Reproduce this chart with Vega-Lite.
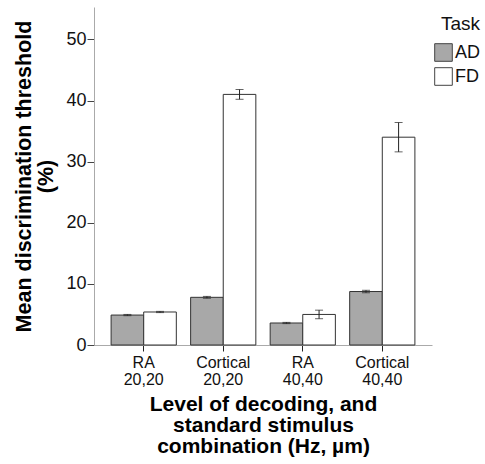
{
  "$schema": "https://vega.github.io/schema/vega-lite/v6.json",
  "width": 338,
  "height": 338,
  "autosize": "none",
  "padding": {"left": 94, "top": 7, "right": 53, "bottom": 119},
  "background": "white",
  "config": {
    "view": {"stroke": null},
    "font": "Liberation Sans"
  },
  "data": {
    "values": [
      {"group": "RA|20,20", "Task": "AD", "value": 4.9, "lo": 4.8, "hi": 5.0},
      {"group": "RA|20,20", "Task": "FD", "value": 5.4, "lo": 5.3, "hi": 5.5},
      {"group": "Cortical|20,20", "Task": "AD", "value": 7.8, "lo": 7.65, "hi": 7.95},
      {"group": "Cortical|20,20", "Task": "FD", "value": 41.0, "lo": 40.2, "hi": 41.8},
      {"group": "RA|40,40", "Task": "AD", "value": 3.6, "lo": 3.5, "hi": 3.7},
      {"group": "RA|40,40", "Task": "FD", "value": 5.0, "lo": 4.3, "hi": 5.7},
      {"group": "Cortical|40,40", "Task": "AD", "value": 8.75, "lo": 8.55, "hi": 8.95},
      {"group": "Cortical|40,40", "Task": "FD", "value": 34.0, "lo": 31.6, "hi": 36.4}
    ]
  },
  "encoding": {
    "x": {
      "field": "group",
      "type": "nominal",
      "sort": ["RA|20,20", "Cortical|20,20", "RA|40,40", "Cortical|40,40"],
      "scale": {"paddingInner": 0.18, "paddingOuter": 0.215},
      "axis": {
        "title": ["Level of decoding, and", "standard stimulus", "combination (Hz, µm)"],
        "titleFontSize": 21,
        "titleFontWeight": "bold",
        "titleColor": "#000000",
        "titleLineHeight": 21,
        "titlePadding": 6,
        "labelExpr": "split(datum.label, '|')",
        "labelAngle": 0,
        "labelFontSize": 16,
        "labelLineHeight": 17,
        "labelColor": "#111111",
        "labelPadding": 3,
        "domainColor": "#aaaaaa",
        "tickColor": "#222222",
        "tickSize": 6
      }
    },
    "xOffset": {
      "field": "Task",
      "type": "nominal",
      "sort": ["AD", "FD"],
      "scale": {"paddingInner": 0, "paddingOuter": 0}
    }
  },
  "layer": [
    {
      "mark": {"type": "bar", "stroke": "#333333", "strokeWidth": 1},
      "encoding": {
        "y": {
          "field": "value",
          "type": "quantitative",
          "scale": {"domain": [0, 55.3], "nice": false},
          "axis": {
            "title": ["Mean discrimination threshold", "(%)"],
            "titleFontSize": 21.5,
            "titleFontWeight": "bold",
            "titleColor": "#000000",
            "titleLineHeight": 22,
            "titlePadding": 8,
            "values": [0, 10, 20, 30, 40, 50],
            "grid": false,
            "labelFontSize": 18,
            "labelColor": "#111111",
            "labelPadding": 1,
            "domainColor": "#aaaaaa",
            "tickColor": "#444444",
            "tickSize": 7
          }
        },
        "fill": {
          "field": "Task",
          "type": "nominal",
          "scale": {"domain": ["AD", "FD"], "range": ["#a8a8a8", "#ffffff"]},
          "legend": {
            "orient": "none",
            "legendX": 340,
            "legendY": 8,
            "title": "Task",
            "titleFontSize": 19,
            "titleFontWeight": "normal",
            "titleColor": "#111111",
            "titleAnchor": "end",
            "titlePadding": 9,
            "symbolType": "square",
            "symbolSize": 310,
            "symbolStrokeColor": "#444444",
            "symbolStrokeWidth": 1,
            "labelFontSize": 18,
            "labelColor": "#111111",
            "labelOffset": 2,
            "rowPadding": 1
          }
        }
      }
    },
    {
      "mark": {"type": "rule", "color": "#222222", "strokeWidth": 1},
      "encoding": {
        "y": {"field": "lo", "type": "quantitative"},
        "y2": {"field": "hi"}
      }
    },
    {
      "mark": {"type": "tick", "color": "#222222", "size": 8, "thickness": 1},
      "encoding": {
        "y": {"field": "lo", "type": "quantitative"}
      }
    },
    {
      "mark": {"type": "tick", "color": "#222222", "size": 8, "thickness": 1},
      "encoding": {
        "y": {"field": "hi", "type": "quantitative"}
      }
    }
  ]
}
